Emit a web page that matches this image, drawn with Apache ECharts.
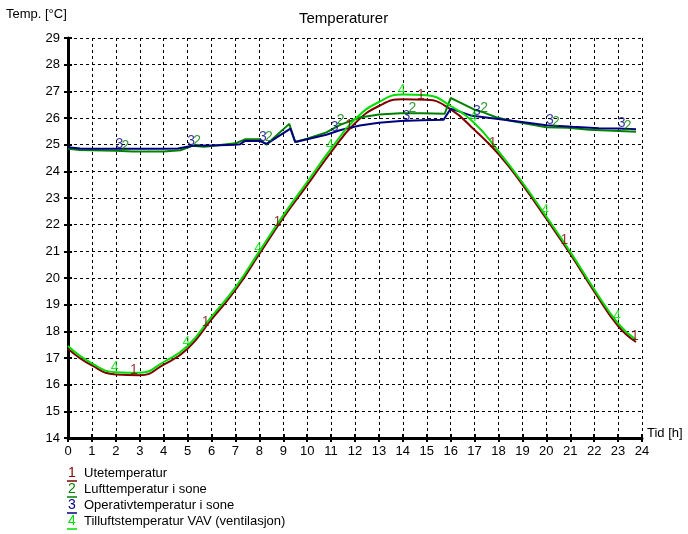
<!DOCTYPE html>
<html>
<head>
<meta charset="utf-8">
<script src="https://cdn.jsdelivr.net/npm/echarts@6/dist/echarts.min.js"></script>
<style>html,body{margin:0;padding:0;background:#fff}#c{width:688px;height:534px}</style>
</head>
<body>
<div id="c"></div>
<script>
// ---- Data ----
var title = 'Temperaturer';
var yAxisTitle = 'Temp. [°C]';
var xAxisTitle = 'Tid [h]';
var seriesNames = ['Utetemperatur', 'Lufttemperatur i sone', 'Operativtemperatur i sone', 'Tilluftstemperatur VAV (ventilasjon)'];
var seriesIds = ['1', '2', '3', '4'];

// 1: Utetemperatur
var outdoorHours = [0,1,2,3,4,5,6,7,8,9,10,11,12,13,14,15,16,17,18,19,20,21,22,23,23.75];
var outdoorTemp  = [17.35,16.72,16.38,16.35,16.75,17.35,18.45,19.55,20.9,22.25,23.48,24.72,25.8,26.45,26.7,26.68,26.32,25.55,24.65,23.5,22.22,20.9,19.5,18.2,17.6];

// 4: Tilluftstemperatur VAV
var supplyHours = [0,1,2,3,4,5,6,7,8,9,10,11,12,13,14,15,16,17,18,19,20,21,22,23,23.75];
var supplyTemp  = [17.45,16.8,16.47,16.45,16.85,17.45,18.55,19.65,21.0,22.35,23.6,24.85,25.95,26.6,26.88,26.85,26.45,25.8,24.75,23.58,22.3,20.98,19.58,18.3,17.68];

// 2: Lufttemperatur i sone
var airHours = [0,0.5,1,2,2.7,4,4.7,5.2,5.7,6,7,7.4,8,8.3,8.6,9.25,9.5,10,10.8,11.4,12.2,13,13.9,14.8,15.75,16,16.4,16.95,17.4,17.9,18.5,19.25,20,20.9,21.8,22.8,23.75];
var airTemp  = [24.85,24.8,24.79,24.77,24.74,24.74,24.79,24.96,24.92,24.95,25.05,25.2,25.2,25.0,25.25,25.78,25.1,25.22,25.46,25.75,26.02,26.13,26.18,26.18,26.16,26.75,26.58,26.33,26.2,26.03,25.9,25.77,25.65,25.63,25.56,25.52,25.48];

// 3: Operativtemperatur i sone
var operHours = [0,0.5,1,2,3,4,4.6,5.2,5.7,6,7,7.2,7.4,8,8.3,8.6,9.3,9.5,10,10.8,11.4,12.2,13,13.9,14.8,15.7,16,16.9,17.9,18.9,20,21.1,22.2,23,23.75];
var operTemp  = [24.9,24.86,24.85,24.85,24.85,24.85,24.86,24.96,24.97,24.97,25.0,25.02,25.14,25.14,25.03,25.2,25.6,25.1,25.2,25.37,25.55,25.72,25.82,25.89,25.92,25.93,26.35,26.08,25.97,25.86,25.73,25.67,25.62,25.61,25.58];

// hours where the curve number markers are printed
var outdoorMarkHours = [2.75,5.75,8.75,11.75,14.75,17.75,20.75,23.7];
var airMarkHours     = [2.4,5.4,8.4,11.4,14.4,17.4,20.4,23.4];
var operMarkHours    = [2.15,5.15,8.15,11.15,14.15,17.1,20.15,23.15];
var supplyMarkHours  = [1.95,4.95,7.95,10.95,13.95,16.95,19.95,22.95];

var yTicks = [14,15,16,17,18,19,20,21,22,23,24,25,26,27,28,29];
var xTicks = [0,1,2,3,4,5,6,7,8,9,10,11,12,13,14,15,16,17,18,19,20,21,22,23,24];

// ---- Styling ----
var colors = ['#800000', '#008000', '#000080', '#00dd00'];
var FONT = '"Liberation Sans", Arial, sans-serif';

function pairs(xs, ys) { return xs.map(function (x, i) { return [x, ys[i]]; }); }
function valueAt(xs, ys, h) {
  for (var i = 0; i < xs.length - 1; i++) {
    if (h >= xs[i] && h <= xs[i + 1]) {
      var t = (h - xs[i]) / (xs[i + 1] - xs[i]);
      return ys[i] + t * (ys[i + 1] - ys[i]);
    }
  }
  return ys[ys.length - 1];
}
function markSeries(xs, ys, hours, id, color) {
  return {
    type: 'scatter', symbolSize: 0, silent: true, z: 5,
    data: hours.map(function (h) { return [h, valueAt(xs, ys, h)]; }),
    label: { show: true, position: 'top', distance: -2, formatter: id, color: color, fontSize: 14, fontFamily: FONT }
  };
}
function lineSeries(xs, ys, color, smooth, name) {
  return { type: 'line', name: name, data: pairs(xs, ys), showSymbol: false, smooth: smooth,
    lineStyle: { color: color, width: 2 }, itemStyle: { color: color }, z: 3 };
}

var chart = echarts.init(document.getElementById('c'), null, { renderer: 'canvas' });

var gridCfg = { left: 68, right: 46, top: 38, bottom: 96, containLabel: false };

var xMain = {
  type: 'value', min: 0, max: 24, interval: 1,
  name: xAxisTitle, nameLocation: 'end', nameGap: 5,
  nameTextStyle: { color: '#000', fontSize: 13, fontFamily: FONT, verticalAlign: 'bottom', padding: [0, 0, -2, 0] },
  axisLine: { show: true, onZero: false, lineStyle: { color: '#000', width: 3 } },
  axisTick: { show: true, inside: false, length: 4, lineStyle: { color: '#000', width: 2 } },
  axisLabel: { color: '#000', fontSize: 13, fontFamily: FONT, margin: 7,
    customValues: xTicks, formatter: function (v) { return String(v); } },
  splitLine: { show: true, lineStyle: { color: '#000', width: 1, type: [3, 3] } }
};
var xInner = {
  type: 'value', min: 0, max: 24, interval: 1, position: 'bottom',
  axisLine: { show: false }, axisLabel: { show: false }, splitLine: { show: false },
  axisTick: { show: true, inside: true, length: 4, lineStyle: { color: '#000', width: 2 } }
};
var yMain = {
  type: 'value', min: 14, max: 29, interval: 1,
  axisLine: { show: true, onZero: false, lineStyle: { color: '#000', width: 3 } },
  axisTick: { show: true, inside: false, length: 4, lineStyle: { color: '#000', width: 2 } },
  axisLabel: { color: '#000', fontSize: 13, fontFamily: FONT, margin: 8,
    customValues: yTicks, formatter: function (v) { return String(v); } },
  splitLine: { show: true, lineStyle: { color: '#000', width: 1, type: [3, 3] } }
};
var yInner = {
  type: 'value', min: 14, max: 29, interval: 1, position: 'left',
  axisLine: { show: false }, axisLabel: { show: false }, splitLine: { show: false },
  axisTick: { show: true, inside: true, length: 4, lineStyle: { color: '#000', width: 2 } }
};

// legend drawn as graphic text (numbers underlined in series colour)
var legendGraphics = [];
var legendTop = 466, legendStep = 16;
seriesNames.forEach(function (nm, i) {
  var y = legendTop + i * legendStep;
  legendGraphics.push({ type: 'text', left: 68, top: y,
    style: { text: seriesIds[i], fill: colors[i], font: '14px ' + FONT } });
  legendGraphics.push({ type: 'line', shape: { x1: 67, y1: y + 15, x2: 77, y2: y + 15 },
    style: { stroke: colors[i], lineWidth: 1.5 } });
  legendGraphics.push({ type: 'text', left: 84, top: y + 1,
    style: { text: nm, fill: '#000', font: '13px ' + FONT } });
});

var option = {
  animation: false,
  backgroundColor: '#fff',
  title: { text: title, left: 294, top: 6,
    textStyle: { color: '#000', fontSize: 15, fontWeight: 'normal', fontFamily: FONT } },
  graphic: [{ type: 'text', left: 6, top: 8, style: { text: yAxisTitle, fill: '#000', font: '13px ' + FONT } }]
    .concat(legendGraphics),
  grid: gridCfg,
  xAxis: [xMain, xInner],
  yAxis: [yMain, yInner],
  series: [
    lineSeries(outdoorHours, outdoorTemp, colors[0], true, seriesNames[0]),
    lineSeries(airHours, airTemp, colors[1], false, seriesNames[1]),
    lineSeries(operHours, operTemp, colors[2], false, seriesNames[2]),
    lineSeries(supplyHours, supplyTemp, colors[3], true, seriesNames[3]),
    markSeries(outdoorHours, outdoorTemp, outdoorMarkHours, seriesIds[0], colors[0]),
    markSeries(airHours, airTemp, airMarkHours, seriesIds[1], colors[1]),
    markSeries(operHours, operTemp, operMarkHours, seriesIds[2], colors[2]),
    markSeries(supplyHours, supplyTemp, supplyMarkHours, seriesIds[3], colors[3])
  ]
};
chart.setOption(option);
</script>
</body>
</html>
